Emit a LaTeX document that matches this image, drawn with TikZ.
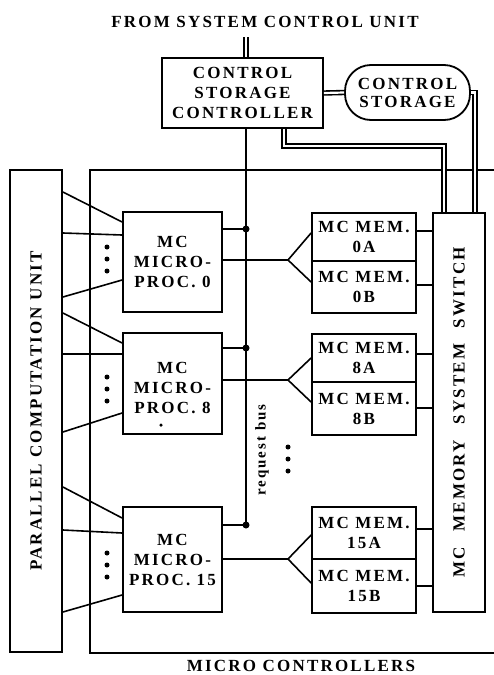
\documentclass[tikz,border=0pt]{standalone}
\usepackage{fontspec}
\setmainfont{Liberation Serif}
\newfontfamily\lbl{Liberation Serif}[LetterSpace=13]
\begin{document}
\begin{tikzpicture}[x=1pt,y=-1pt,
  txt/.style={font=\lbl\bfseries\fontsize{17}{20}\selectfont, align=center, inner sep=0pt},
  box/.style={draw, line width=1.8pt, fill=white, inner sep=0pt, txt},
  ln/.style={line width=1.6pt},
  dbl/.style={line width=1.6pt, double=white, double distance=2.2pt},
  jdot/.style={circle, fill, inner sep=0pt, minimum size=7pt},
  sdot/.style={circle, fill, inner sep=0pt, minimum size=5pt}]
\useasboundingbox (0,0) rectangle (494,675);
\fill[white] (0,0) rectangle (494,675);

% title and top boxes
\node[txt] (title) at (265,22) {FROM SYSTEM CONTROL UNIT};
\node[box, minimum width=161pt, minimum height=70pt] (csc) at (242.5,93) {CONTROL\\STORAGE\\CONTROLLER};
\node[box, rounded corners=26pt, minimum width=125pt, minimum height=55pt, font=\lbl\bfseries\fontsize{17}{18}\selectfont] (cs) at (407.5,92.5) {CONTROL\\STORAGE};

% micro controllers frame
\coordinate (fr1) at (494,170);
\coordinate (fr2) at (90,170);
\coordinate (fr3) at (90,653);
\coordinate (fr4) at (494,653);
\draw[ln] (fr1) -- (fr2) -- (fr3) -- (fr4);
\node[txt] (mclab) at (301,666) {MICRO CONTROLLERS};

% parallel computation unit
\node[box, minimum width=52pt, minimum height=482pt] (pcu) at (36,411) {};
\node[txt, rotate=90] (pcutxt) at (pcu.center) {PARALLEL COMPUTATION UNIT};

% memory system switch
\node[box, minimum width=52pt, minimum height=399pt] (sw) at (459,412.5) {};
\node[txt, rotate=90] (swtxt) at (sw.center) {MC\hspace{9pt} MEMORY\hspace{9pt} SYSTEM\hspace{9pt} SWITCH};

% micro processors
\node[box, minimum width=99pt, minimum height=100pt] (mp0) at (172.5,262) {MC\\MICRO-\\PROC. 0};
\node[box, minimum width=99pt, minimum height=101pt] (mp8) at (172.5,383.5) {};
\node[txt] (mp8txt) at (172.5,388) {MC\\MICRO-\\PROC. 8};
\node[sdot, minimum size=3.5pt] (mp8dot) at (161,425) {};
\node[box, minimum width=99pt, minimum height=105pt] (mp15) at (172.5,559.5) {MC\\MICRO-\\PROC. 15};

% memories
\node[box, minimum width=104pt, minimum height=48pt] (m0a) at (364,237) {MC MEM.\\0A};
\node[box, minimum width=104pt, minimum height=52pt] (m0b) at (364,287) {MC MEM.\\0B};
\node[box, minimum width=104pt, minimum height=48pt] (m8a) at (364,358) {MC MEM.\\8A};
\node[box, minimum width=104pt, minimum height=53pt] (m8b) at (364,408.5) {MC MEM.\\8B};
\node[box, minimum width=104pt, minimum height=52pt] (m15a) at (364,533) {MC MEM.\\15A};
\node[box, minimum width=104pt, minimum height=54pt] (m15b) at (364,586) {MC MEM.\\15B};

% request bus
\coordinate (b0) at (246,229);
\coordinate (b8) at (246,348);
\coordinate (b15) at (246,525);
\draw[ln] (csc.south -| b0) -- (b15);
\node[font=\lbl\bfseries\fontsize{15}{16}\selectfont, rotate=90, inner sep=0pt] (rbus) at (262,450) {request bus};

% processor to bus
\draw[ln] (mp0.east |- b0) -- (b0);
\draw[ln] (mp8.east |- b8) -- (b8);
\draw[ln] (mp15.east |- b15) -- (b15);
\node[jdot] (d0) at (b0) {};
\node[jdot] (d8) at (b8) {};
\node[jdot] (d15) at (b15) {};

% processor to memories (forks)
\coordinate (f0) at (288,260);
\coordinate (f8) at (288,380);
\coordinate (f15) at (288,559);
\draw[ln] (mp0.east |- f0) -- (f0) -- (m0a.west |- 0,233);
\draw[ln] (f0) -- (m0b.west |- 0,282);
\draw[ln] (mp8.east |- f8) -- (f8) -- (m8a.west |- 0,358);
\draw[ln] (f8) -- (m8b.west |- 0,402);
\draw[ln] (mp15.east |- f15) -- (f15) -- (m15a.west |- 0,535);
\draw[ln] (f15) -- (m15b.west |- 0,583);

% memories to switch
\foreach \m/\yy in {m0a/231, m0b/285, m8a/354, m8b/408, m15a/529, m15b/586}
  \draw[ln] (\m.east |- 0,\yy) -- (sw.west |- 0,\yy);

% dots between memory groups
\node[sdot] (md1) at (288,447) {};
\node[sdot] (md2) at (288,459) {};
\node[sdot] (md3) at (288,471) {};

% PCU to processors
\draw[ln] (pcu.east |- 0,192) -- (mp0.west |- 0,222);
\draw[ln] (pcu.east |- 0,233) -- (mp0.west |- 0,235);
\draw[ln] (pcu.east |- 0,297) -- (mp0.west |- 0,280);
\draw[ln] (pcu.east |- 0,313) -- (mp8.west |- 0,343);
\draw[ln] (pcu.east |- 0,354) -- (mp8.west |- 0,354);
\draw[ln] (pcu.east |- 0,432) -- (mp8.west |- 0,413);
\draw[ln] (pcu.east |- 0,487) -- (mp15.west |- 0,518);
\draw[ln] (pcu.east |- 0,530) -- (mp15.west |- 0,533);
\draw[ln] (pcu.east |- 0,612) -- (mp15.west |- 0,595);
\foreach \yy in {247,259,271,377,389,401,553,565,577}
  \node[sdot] at (107,\yy) {};

% double connectors
\coordinate (t1) at (246,37);
\draw[dbl] (t1) -- (t1 |- csc.north);
\draw[dbl] (csc.east) -- (cs.west);
\coordinate (c1) at (284,146);
\coordinate (c2) at (444,146);
\draw[dbl] (csc.south -| c1) -- (c1) -- (c2) -- (c2 |- sw.north);
\coordinate (c3) at (475,92.5);
\draw[dbl] (cs.east) -- (c3) -- (c3 |- sw.north);
\end{tikzpicture}
\end{document}
